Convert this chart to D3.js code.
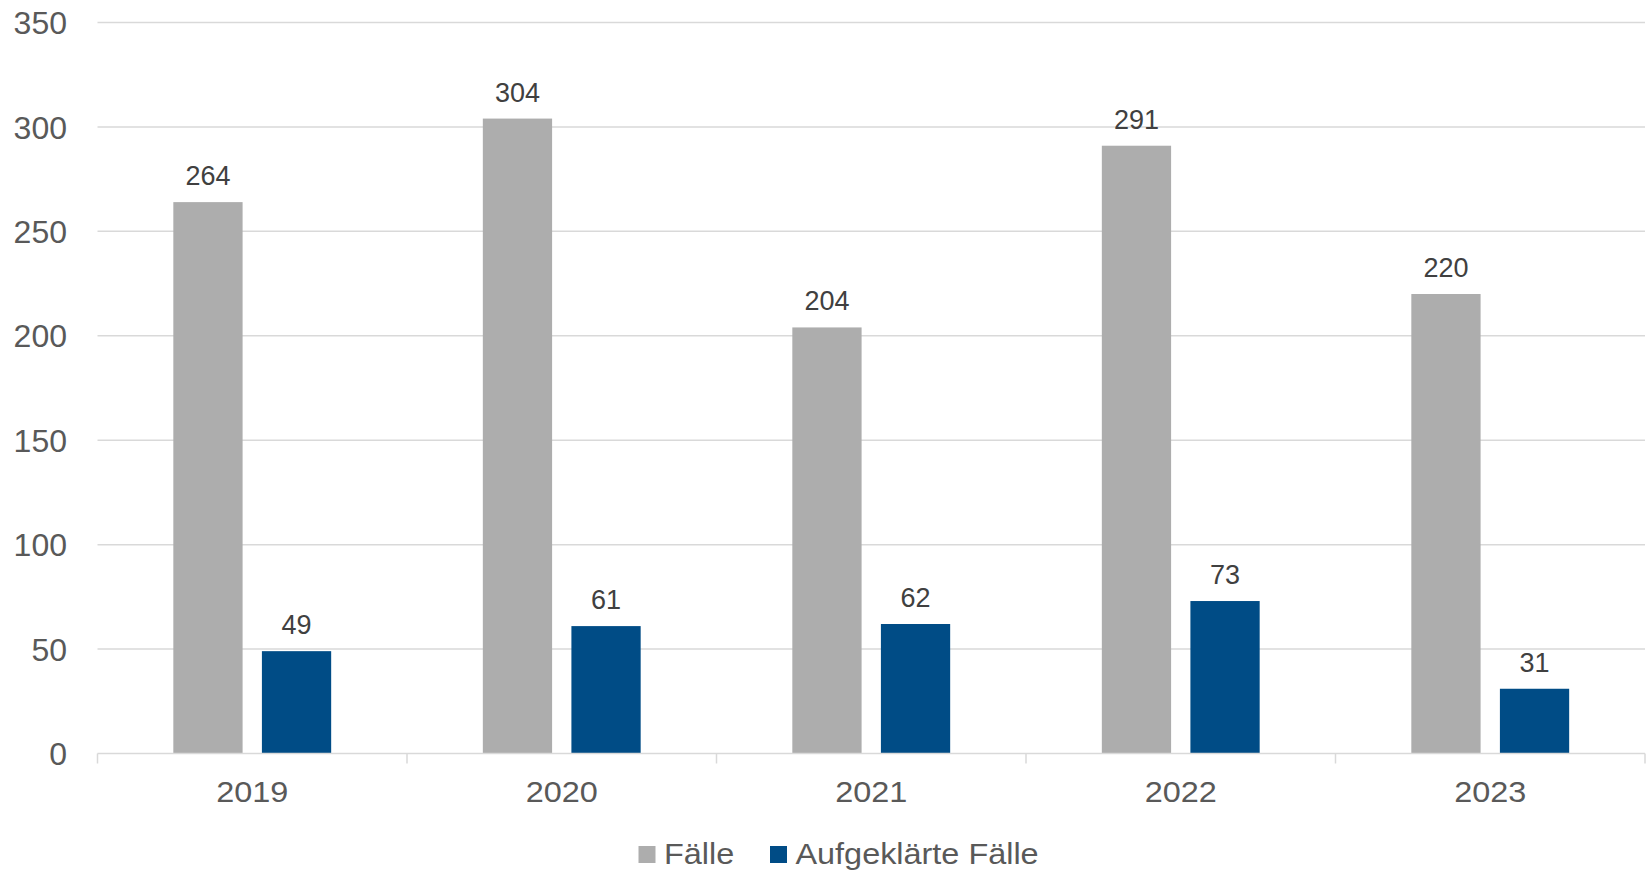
<!DOCTYPE html>
<html>
<head>
<meta charset="utf-8">
<script src="https://cdn.jsdelivr.net/npm/d3@7"></script>
<style>
  html, body { margin: 0; padding: 0; background: #fff; }
  svg { display: block; }
  text { font-family: "Liberation Sans", Arial, sans-serif; }
</style>
</head>
<body>
<svg id="chart" width="1648" height="874"></svg>
<script>
const categories = ["2019", "2020", "2021", "2022", "2023"];
const seriesNames = ["Fälle", "Aufgeklärte Fälle"];
const faelle = [264, 304, 204, 291, 220];
const aufgeklaert = [49, 61, 62, 73, 31];
const yTicks = [0, 50, 100, 150, 200, 250, 300, 350];
const colors = ["#ADADAD", "#004C86"];

(function () {
const svg = d3.select("#chart");
const mLeft = 97.5, mRight = 1645, mTop = 22.5, mBottom = 753.5;
const stretch = 1.08;

const x = d3.scaleBand().domain(categories).range([mLeft, mRight]).padding(0);
const bw = x.bandwidth();
const sub = d3.scaleBand().domain(seriesNames).range([bw * 0.245, bw * 0.755]).paddingInner(0.218);
const y = d3.scaleLinear().domain([0, 350]).range([mBottom, mTop]);

// gridlines
svg.append("g").selectAll("line").data(yTicks.filter(t => t > 0)).join("line")
  .attr("x1", mLeft).attr("x2", mRight)
  .attr("y1", d => y(d)).attr("y2", d => y(d))
  .attr("stroke", "#D9D9D9").attr("stroke-width", 1.5);

// y labels
const yAxis = d3.axisLeft(y).tickValues(yTicks).tickSize(0).tickPadding(0);
const yg = svg.append("g").attr("transform", `translate(${67},0)`).call(yAxis);
yg.select(".domain").remove();
yg.selectAll("text").attr("font-size", 32).attr("fill", "#595959")
  .attr("font-family", "Liberation Sans, Arial, sans-serif").attr("dy", "0.35em");

// bars
const data = categories.map((c, i) => ({ c, vals: [faelle[i], aufgeklaert[i]] }));
const groups = svg.append("g").selectAll("g").data(data).join("g")
  .attr("transform", d => `translate(${x(d.c)},0)`);
groups.selectAll("rect").data(d => d.vals.map((v, j) => ({ v, s: seriesNames[j], j }))).join("rect")
  .attr("x", d => sub(d.s)).attr("width", sub.bandwidth())
  .attr("y", d => y(d.v)).attr("height", d => y(0) - y(d.v))
  .attr("fill", d => colors[d.j]);
groups.selectAll("text").data(d => d.vals.map((v, j) => ({ v, s: seriesNames[j], j }))).join("text")
  .attr("x", d => sub(d.s) + sub.bandwidth() / 2)
  .attr("y", d => y(d.v) - 17)
  .attr("text-anchor", "middle").attr("font-size", 27).attr("fill", "#404040")
  .text(d => d.v);

// x axis
const xAxis = d3.axisBottom(x).tickSize(0).tickPadding(0);
const xg = svg.append("g").attr("transform", `translate(0,${mBottom})`).call(xAxis);
xg.select(".domain").remove();
xg.selectAll("text").attr("font-size", 30).attr("fill", "#595959")
  .attr("font-family", "Liberation Sans, Arial, sans-serif").attr("dy", null)
  .attr("y", 0).attr("transform", `translate(0,48) scale(${stretch},1)`);
svg.append("line").attr("x1", mLeft).attr("x2", mRight).attr("y1", mBottom).attr("y2", mBottom)
  .attr("stroke", "#D9D9D9").attr("stroke-width", 1.5);
const bounds = categories.map(c => x(c)).concat([mRight]);
svg.append("g").selectAll("line").data(bounds).join("line")
  .attr("x1", d => d).attr("x2", d => d).attr("y1", mBottom).attr("y2", mBottom + 10)
  .attr("stroke", "#D9D9D9").attr("stroke-width", 1.5);

// legend
const legendX = [638.5, 770];
const lg = svg.append("g").selectAll("g").data(seriesNames).join("g")
  .attr("transform", (d, i) => `translate(${legendX[i]},0)`);
lg.append("rect").attr("x", 0).attr("y", 846).attr("width", 17).attr("height", 17)
  .attr("fill", (d, i) => colors[i]);
lg.append("text").attr("transform", `translate(25.5,863.5) scale(${stretch},1)`)
  .attr("font-size", 30).attr("fill", "#595959")
  .text(d => d);
})();
</script>
</body>
</html>
